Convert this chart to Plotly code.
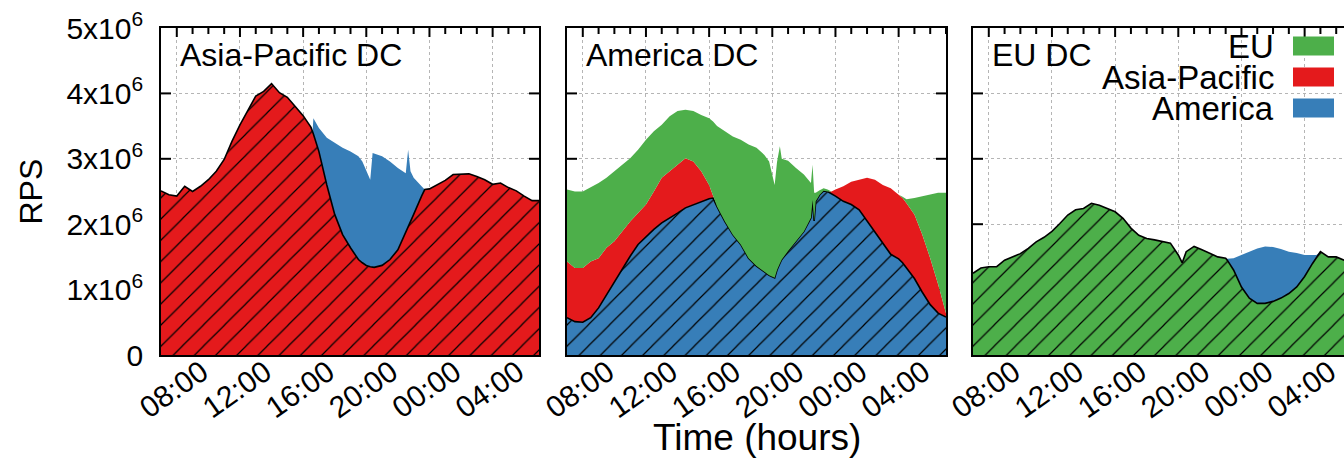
import numpy as np
import plotly.graph_objects as go

# ---------------------------------------------------------------------------
# Requests per second (in units of 1e6) served by each data center, split by
# the client region the traffic came from. Time is hours since midnight of
# day 1 (07:00 -> 07:00 next day, so 24..31 means 00:00..07:00).
# ---------------------------------------------------------------------------

# Asia-Pacific DC
t_apdc = [7, 7.5, 8, 8.5, 9, 9.5, 10, 10.5, 11, 11.5, 12, 12.5, 13, 13.5, 14,
          14.5, 15, 15.5, 16, 16.5, 16.6, 16.65, 17, 17.5, 18, 18.5, 19, 19.5,
          19.75, 20, 20.25, 20.4, 20.5, 21, 21.5, 22, 22.5, 22.65, 22.8, 23,
          23.5, 23.7, 24, 24.5, 25, 25.5, 26, 26.5, 27, 27.5, 28, 28.5, 29,
          29.5, 30, 30.5, 31]
apdc_asia = [2.51, 2.45, 2.43, 2.58, 2.50, 2.58, 2.68, 2.81, 2.99, 3.27, 3.52,
             3.75, 3.96, 4.03, 4.15, 4.01, 3.94, 3.80, 3.66, 3.48, 3.42, 3.38,
             3.11, 2.60, 2.15, 1.84, 1.64, 1.46, 1.41, 1.37, 1.35, 1.34, 1.34,
             1.37, 1.46, 1.61, 1.87, 1.95, 2.03, 2.15, 2.43, 2.53, 2.54, 2.60,
             2.67, 2.76, 2.76, 2.77, 2.73, 2.68, 2.61, 2.63, 2.56, 2.51, 2.43,
             2.36, 2.36]
apdc_america = [0, 0, 0, 0, 0, 0, 0, 0, 0, 0, 0, 0, 0, 0, 0, 0, 0, 0, 0, 0, 0,
                0.24, 0.36, 0.72, 1.09, 1.33, 1.47, 1.58, 1.55, 1.44, 1.33,
                1.75, 1.74, 1.67, 1.50, 1.25, 0.91, 1.19, 0.78, 0.56, 0.15, 0,
                0, 0, 0, 0, 0, 0, 0, 0, 0, 0, 0, 0, 0, 0, 0]

# America DC
t_amdc = [7, 7.5, 8, 8.5, 9, 9.5, 10, 10.5, 11, 11.5, 12, 12.5, 13, 13.5, 14,
          14.5, 15, 15.5, 16, 16.25, 16.5, 17, 17.5, 18, 18.5, 19, 19.5, 19.8,
          20.15, 20.3, 20.48, 20.6, 21, 21.5, 22, 22.45, 22.55, 22.65, 22.75,
          23, 23.25, 23.5, 23.75, 24, 24.5, 25, 25.5, 26, 26.5, 27, 27.5, 28,
          28.25, 28.5, 29, 29.5, 30, 30.5, 31]
amdc_america = [0.57, 0.51, 0.50, 0.57, 0.72, 0.92, 1.13, 1.33, 1.51, 1.69,
                1.81, 1.92, 2.02, 2.09, 2.17, 2.25, 2.30, 2.35, 2.39, 2.40,
                2.27, 2.04, 1.84, 1.69, 1.48, 1.36, 1.28, 1.22, 1.18, 1.30,
                1.40, 1.46, 1.59, 1.74, 1.89, 2.10, 2.37, 2.05, 2.35, 2.45,
                2.51, 2.50, 2.47, 2.43, 2.35, 2.30, 2.22, 2.05, 1.89, 1.71,
                1.54, 1.47, 1.41, 1.33, 1.17, 0.96, 0.77, 0.64, 0.58]
amdc_asia = [0.86, 0.82, 0.83, 0.86, 0.76, 0.72, 0.61, 0.56, 0.53, 0.48, 0.49,
             0.58, 0.69, 0.72, 0.74, 0.76, 0.66, 0.46, 0.21, 0.03, 0, 0, 0, 0,
             0, 0, 0, 0, 0, 0, 0, 0, 0, 0, 0, 0, 0, 0, 0, 0, 0, 0, 0.03, 0.10,
             0.23, 0.35, 0.46, 0.66, 0.79, 0.89, 1.01, 0.98, 0.99, 0.99, 0.98,
             0.88, 0.71, 0.44, 0.06]
amdc_eu = [1.10, 1.17, 1.17, 1.13, 1.15, 1.07, 1.07, 1.02, 0.97, 0.97, 0.99,
           0.92, 0.81, 0.84, 0.82, 0.74, 0.77, 0.86, 1.02, 1.14, 1.23, 1.38,
           1.50, 1.60, 1.74, 1.81, 1.78, 1.74, 1.42, 1.65, 1.79, 1.54, 1.38,
           1.12, 0.87, 0.53, 0.54, 0.43, 0.13, 0.07, 0.04, 0.03, 0, 0, 0, 0,
           0, 0, 0, 0, 0, 0, 0.02, 0.06, 0.25, 0.59, 0.97, 1.40, 1.84]

# EU DC
t_eudc = [7, 7.5, 8, 8.5, 9, 9.5, 10, 10.5, 11, 11.5, 12, 12.5, 13, 13.5, 14,
          14.5, 15, 15.5, 16, 16.5, 17, 17.5, 18, 18.5, 19, 19.5, 20, 20.25,
          20.5, 21, 21.5, 22, 22.5, 23, 23.1, 23.5, 24, 24.5, 25, 25.5, 26,
          26.5, 27, 27.5, 28, 28.5, 28.75, 29, 29.5, 30, 30.5, 31]
eudc_eu = [1.25, 1.33, 1.35, 1.35, 1.45, 1.50, 1.55, 1.63, 1.73, 1.80, 1.89,
           2.01, 2.14, 2.22, 2.24, 2.32, 2.29, 2.24, 2.19, 2.09, 1.94, 1.83,
           1.78, 1.76, 1.73, 1.71, 1.53, 1.41, 1.58, 1.66, 1.61, 1.55, 1.50,
           1.48, 1.45, 1.30, 1.04, 0.87, 0.79, 0.79, 0.82, 0.87, 0.94, 1.04,
           1.20, 1.40, 1.50, 1.58, 1.50, 1.50, 1.45, 1.42]
eudc_america = [0, 0, 0, 0, 0, 0, 0, 0, 0, 0, 0, 0, 0, 0, 0, 0, 0, 0, 0, 0, 0,
                0, 0, 0, 0, 0, 0, 0, 0, 0, 0, 0, 0, 0, 0.02, 0.18, 0.49, 0.71,
                0.84, 0.87, 0.83, 0.75, 0.64, 0.52, 0.33, 0.13, 0.03, 0, 0, 0,
                0, 0]

panel_titles = ["Asia-Pacific DC", "America DC", "EU DC"]
hour_ticks = [8, 12, 16, 20, 24, 28]
hour_labels = ["08:00", "12:00", "16:00", "20:00", "00:00", "04:00"]
rps_ticks = [0, 1, 2, 3, 4, 5]
rps_labels = ["0", "1x10<sup>6</sup>", "2x10<sup>6</sup>", "3x10<sup>6</sup>",
              "4x10<sup>6</sup>", "5x10<sup>6</sup>"]
legend_names = ["EU", "Asia-Pacific", "America"]

RED, BLUE, GREEN = "#e41a1c", "#377eb8", "#4daf4a"
legend_colors = [GREEN, RED, BLUE]
SCALE = 1e6
FONT = "Liberation Sans, Arial, Helvetica, sans-serif"

W, H = 1344, 458
PX_PER_HOUR = 379 / 24.0
panel_left = [161, 567, 973]
panel_right = [539, 946, W]
plot_top, plot_bottom = 28, 355
PLOT_H = plot_bottom - plot_top
Y_PER_PX = 5 * SCALE / PLOT_H

fig = go.Figure()

panels = [
    (t_apdc, [(apdc_asia, RED, True), (apdc_america, BLUE, False)]),
    (t_amdc, [(amdc_america, BLUE, True), (amdc_asia, RED, False),
              (amdc_eu, GREEN, False)]),
    (t_eudc, [(eudc_eu, GREEN, True), (eudc_america, BLUE, False)]),
]

for i, (t, stack) in enumerate(panels):
    n = i + 1
    sx = "" if n == 1 else str(n)
    xa, ya = "x" + sx, "y" + sx
    xmax = 7 + (panel_right[i] - panel_left[i]) / PX_PER_HOUR

    # Inward tick marks (hourly minor, 4-hourly major); drawn first so the
    # filled areas cover them
    tx, ty = [], []
    for h in range(8, int(xmax) + 1):
        ln = (9 if h in hour_ticks else 6) * Y_PER_PX
        tx += [h, h, None, h, h, None]
        ty += [5 * SCALE, 5 * SCALE - ln, None, 0, ln, None]
    dx = 10 / PX_PER_HOUR
    edges = [(7, 1), (xmax, -1)] if n < 3 else [(7, 1)]
    for v in rps_ticks[1:-1]:
        for xe, sgn in edges:
            tx += [xe, xe + sgn * dx, None]
            ty += [v * SCALE, v * SCALE, None]
    fig.add_trace(go.Scatter(x=tx, y=ty, xaxis=xa, yaxis=ya, mode="lines",
                             line=dict(color="black", width=2),
                             hoverinfo="skip", showlegend=False,
                             cliponaxis=False))

    for vals, color, hatched in stack:
        kw = dict(x=t, y=np.array(vals) * SCALE, xaxis=xa, yaxis=ya,
                  stackgroup=f"dc{n}", mode="lines", fillcolor=color,
                  hoverinfo="skip", showlegend=False)
        if hatched:
            kw["line"] = dict(color="black", width=1.6)
            kw["fillpattern"] = dict(shape="/", fgcolor="black", bgcolor=color,
                                     size=15, solidity=0.08, fgopacity=1)
        else:
            kw["line"] = dict(color=color, width=0)
        fig.add_trace(go.Scatter(**kw))

xtick_font = dict(family=FONT, size=30, color="black")
ytick_font = dict(family=FONT, size=30, color="black")
ydom = [(H - plot_bottom) / H, (H - plot_top) / H]

layout = dict(
    width=W, height=H, margin=dict(l=0, r=0, t=0, b=0, autoexpand=False),
    template="none",
    paper_bgcolor="white", plot_bgcolor="white", showlegend=False,
    font=dict(family=FONT, color="black"),
)

for i in range(3):
    n = i + 1
    sx = "" if n == 1 else str(n)
    x0 = panel_left[i]
    x1 = panel_right[i]
    xmax = 7 + (x1 - x0) / PX_PER_HOUR
    layout["xaxis" + sx] = dict(
        domain=[x0 / W, x1 / W], range=[7, xmax], anchor="y" + sx,
        automargin=False,
        tickmode="array", tickvals=hour_ticks, ticktext=hour_labels,
        tickangle=-35, tickfont=xtick_font, ticklabelshift=25,
        ticklabelstandoff=-14,
        ticks="", showline=True, mirror=True, linecolor="black", linewidth=1.6,
        zeroline=False,
        showgrid=True, gridcolor="#b5b5b5", griddash="dot", gridwidth=1,
        layer="above traces", fixedrange=True,
    )
    layout["yaxis" + sx] = dict(
        domain=ydom, range=[0, 5 * SCALE], anchor="x" + sx,
        automargin=False,
        tickmode="array", tickvals=[v * SCALE for v in rps_ticks],
        ticktext=rps_labels, tickfont=ytick_font, showticklabels=(n == 1),
        ticklabelstandoff=10,
        ticks="", showline=True, mirror=(n < 3), linecolor="black",
        linewidth=1.6, zeroline=False,
        showgrid=True, gridcolor="#b5b5b5", griddash="dot", gridwidth=1,
        layer="above traces", fixedrange=True,
    )

fig.update_layout(**layout)

shapes = []
annotations = []
for i, title in enumerate(panel_titles):
    annotations.append(dict(
        text=title.replace(" DC", "\u00a0DC"),
        xref="paper", yref="paper", x=(panel_left[i] + 17) / W, y=1 - 55 / H,
        xanchor="left", yanchor="middle", showarrow=False,
        font=dict(family=FONT, size=32, color="black")))

# Legend: right-aligned labels with colour swatches to their right
legend_rows_y = [46, 77, 108]
for name, color, yc in zip(legend_names, legend_colors, legend_rows_y):
    annotations.append(dict(
        text=name, xref="paper", yref="paper", x=1276 / W, y=1 - yc / H,
        xanchor="right", yanchor="middle", showarrow=False,
        font=dict(family=FONT, size=33, color="black")))
    shapes.append(dict(type="rect", xref="paper", yref="paper",
                       x0=1293 / W, x1=1334 / W,
                       y0=1 - (yc + 9.5) / H, y1=1 - (yc - 9.5) / H,
                       fillcolor=color, line=dict(width=0), layer="above"))

annotations.append(dict(
    text="Time (hours)", xref="paper", yref="paper",
    x=(panel_left[1] + panel_right[1]) / 2 / W, y=1 - 437 / H,
    xanchor="center", yanchor="middle", showarrow=False,
    font=dict(family=FONT, size=37, color="black")))
annotations.append(dict(
    text="RPS", xref="paper", yref="paper", x=30 / W,
    y=1 - (plot_top + plot_bottom) / 2 / H, xanchor="center", yanchor="middle",
    textangle=-90, showarrow=False,
    font=dict(family=FONT, size=32, color="black")))

fig.update_layout(shapes=shapes, annotations=annotations)
fig.write_html("out.html")
